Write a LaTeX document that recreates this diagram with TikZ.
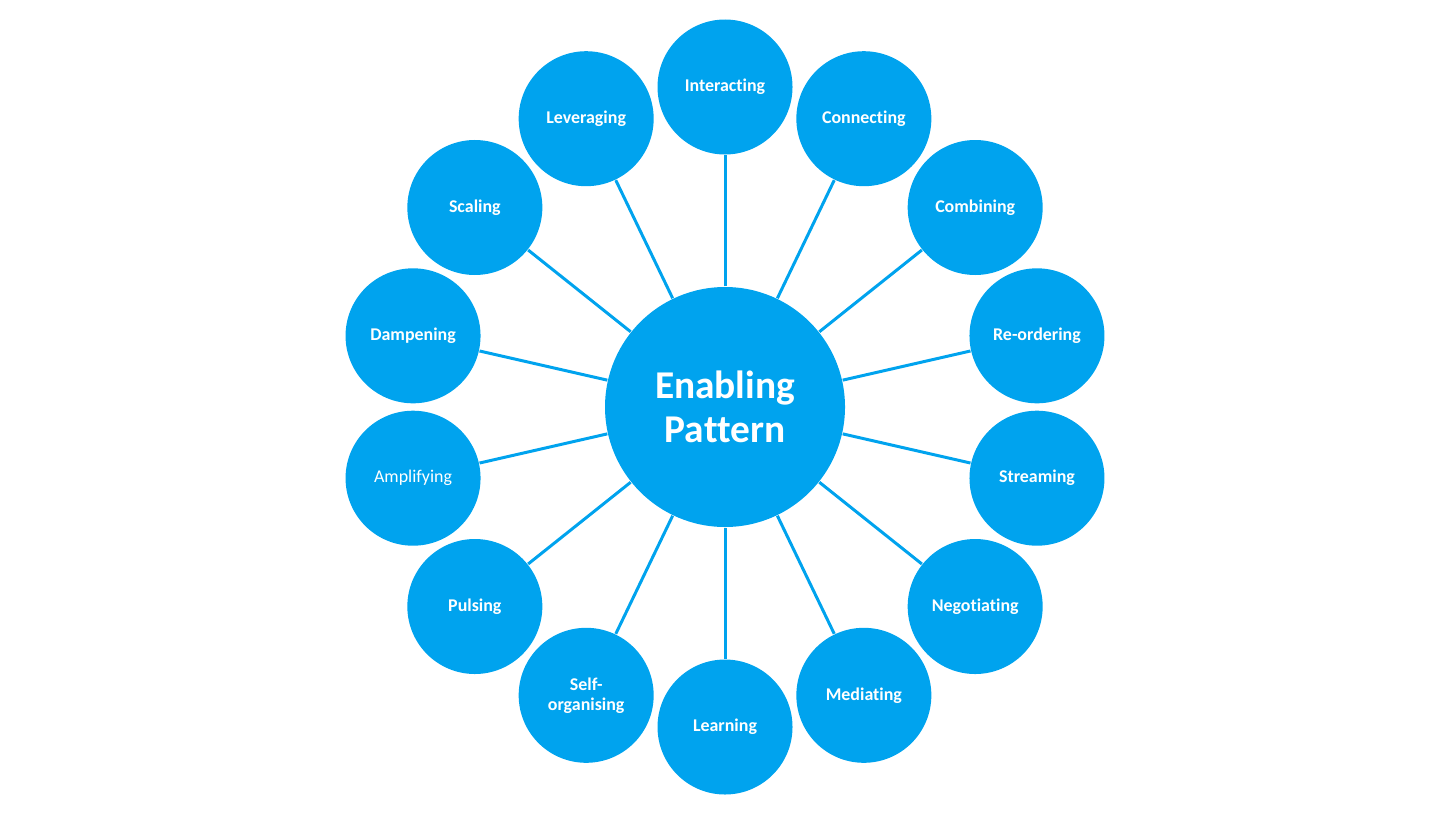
\documentclass[tikz,border=0pt]{standalone}
\usepackage{fontspec}
\setmainfont[Ligatures=NoCommon]{Carlito}
\usepackage{tikz}
\usetikzlibrary{calc}
\definecolor{patblue}{RGB}{0,163,238}

\tikzset{
    petal/.style={circle, fill=patblue, text=white, minimum size=1.35cm, inner sep=0pt,
        align=center, font=\fontsize{5.1}{5.7}\selectfont},
    hub/.style={circle, fill=patblue, text=white, minimum size=2.4cm, inner sep=0pt,
        align=center, font=\bfseries\fontsize{11.2}{12.5}\selectfont},
    spoke/.style={draw=patblue, line width=0.85pt}
}

\begin{document}
\begin{tikzpicture}
    \useasboundingbox (0, 0) rectangle (14.56, 8.19);
    \node[hub] (hub) at (7.25, 4.12) {Enabling\\Pattern};
    % clockwise from the top; amplifying is set in the regular weight
    \foreach \name/\wt/\txt [count=\i from 0] in {interact/\bfseries/Interacting,
        connect/\bfseries/Connecting, combine/\bfseries/Combining, reorder/\bfseries/Re-ordering,
        stream/\bfseries/Streaming, negotiate/\bfseries/Negotiating, mediate/\bfseries/Mediating,
        learn/\bfseries/Learning, selforg/\bfseries/{Self-\\organising}, pulse/\bfseries/Pulsing,
        amplify/\mdseries/Amplifying, dampen/\bfseries/Dampening, scale/\bfseries/Scaling,
        leverage/\bfseries/Leveraging}
    {
        \node[petal, font=\wt\fontsize{5.1}{5.7}\selectfont] (\name)
            at ($(hub) + ({90-\i*360/14}:3.2)$) {\txt};
        \draw[spoke] (hub) -- (\name);
    }
\end{tikzpicture}
\end{document}
